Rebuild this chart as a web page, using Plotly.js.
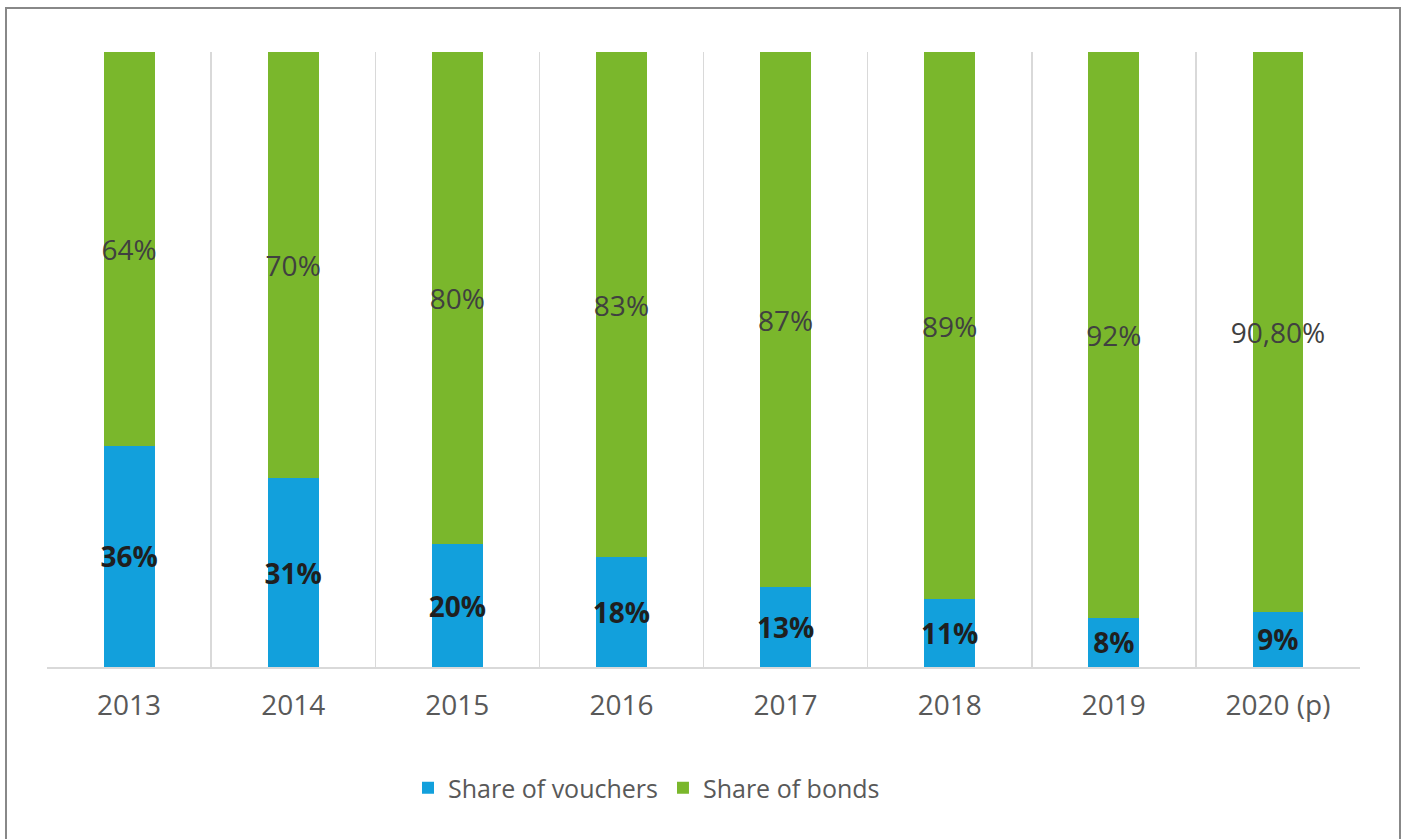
<!DOCTYPE html>
<html>
<head>
<meta charset="utf-8">
<script src="https://cdn.plot.ly/plotly-3.0.1.min.js"></script>
<style>
  html, body { margin: 0; padding: 0; background: #fff; }
  #chart { width: 1405px; height: 839px; }
</style>
</head>
<body>
<div id="chart"></div>
<script>
const years = ['2013', '2014', '2015', '2016', '2017', '2018', '2019', '2020 (p)'];
const vouchers = [36, 31, 20, 18, 13, 11, 8, 9];
const bonds = [64, 70, 80, 83, 87, 89, 92, 90.8];
const voucherLabels = ['36%', '31%', '20%', '18%', '13%', '11%', '8%', '9%'];
const bondLabels = ['64%', '70%', '80%', '83%', '87%', '89%', '92%', '90,80%'];

const FONT = 'Open Sans, DejaVu Sans, sans-serif';
const W = 1405, H = 839;
const margin = { l: 47, r: 45, t: 52, b: 172 };
const pw = W - margin.l - margin.r, ph = H - margin.t - margin.b;

// paper coords for the outer frame (page pixels -> plot paper)
const px = (x) => (x - margin.l) / pw;
const py = (y) => (H - margin.b - y) / ph;

const data = [
  {
    x: years, y: vouchers, type: 'bar', name: 'Share of vouchers',
    marker: { color: '#12a0dc' },
    text: voucherLabels, textposition: 'inside', insidetextanchor: 'middle',
    textangle: 0, constraintext: 'none', hoverinfo: 'x+y',
    textfont: { family: FONT, size: 28, color: '#1f1f1f', weight: 'bold' },
  },
  {
    x: years, y: bonds, type: 'bar', name: 'Share of bonds',
    marker: { color: '#7ab72c' },
    text: bondLabels, textposition: 'inside', insidetextanchor: 'middle',
    textangle: 0, constraintext: 'none', hoverinfo: 'x+y',
    textfont: { family: FONT, size: 28, color: '#404040' },
  },
];

const layout = {
  width: W, height: H,
  paper_bgcolor: '#fff', plot_bgcolor: '#fff',
  barmode: 'stack', barnorm: 'percent', bargap: 0.69,
  margin: margin,
  font: { family: FONT, color: '#595959' },
  xaxis: {
    type: 'category', tickson: 'boundaries', ticks: '',
    showgrid: true, gridcolor: '#d9d9d9', gridwidth: 1.5,
    showline: true, linecolor: '#d9d9d9', linewidth: 2,
    tickfont: { family: FONT, size: 28, color: '#595959' },
    ticklabelstandoff: 12,
  },
  yaxis: { range: [0, 100], visible: false, showgrid: false, zeroline: false },
  showlegend: true,
  legend: {
    orientation: 'h', traceorder: 'normal',
    x: px(408), xanchor: 'left', y: py(788), yanchor: 'middle',
    font: { family: FONT, size: 25, color: '#595959' },
    itemwidth: 30, tracegroupgap: 0,
  },
  shapes: [{
    type: 'rect', xref: 'paper', yref: 'paper',
    x0: px(6), x1: px(1400), y0: py(850), y1: py(8),
    line: { color: '#888', width: 2 }, fillcolor: 'rgba(0,0,0,0)', layer: 'below',
  }],
};

Plotly.newPlot('chart', data, layout, { displayModeBar: false, staticPlot: true });
</script>
</body>
</html>
